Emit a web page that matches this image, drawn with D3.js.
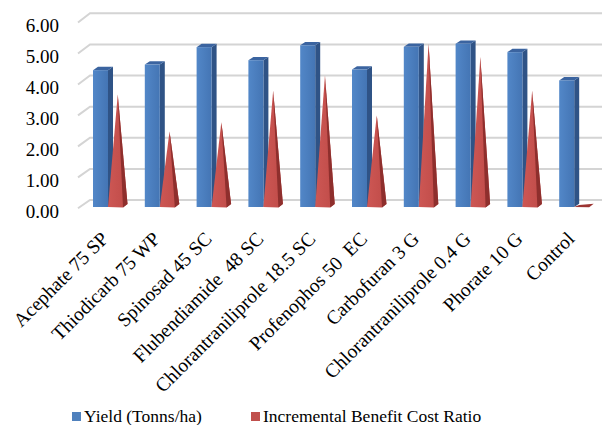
<!DOCTYPE html>
<html><head><meta charset="utf-8">
<script src="https://cdn.jsdelivr.net/npm/d3@7"></script>
<style>body{margin:0;background:#fff}svg{display:block}text{font-family:"Liberation Serif","Times New Roman",serif;fill:#000}</style>
</head><body>
<script>
const categories = ["Acephate 75 SP","Thiodicarb 75 WP","Spinosad 45 SC","Flubendiamide  48 SC","Chlorantraniliprole 18.5 SC","Profenophos 50  EC","Carbofuran 3 G","Chlorantraniliprole 0.4 G","Phorate 10 G","Control"];
const yieldValues = [4.40, 4.58, 5.14, 4.72, 5.20, 4.42, 5.15, 5.25, 4.98, 4.07];
const ibcrValues = [3.62, 2.43, 2.73, 3.75, 4.23, 2.95, 5.25, 4.82, 3.75, 0.00];
const yTicks = [0,1,2,3,4,5,6];
const seriesNames = ["Yield (Tonns/ha)", "Incremental Benefit Cost Ratio"];

const W=605,H=425;
const svg=d3.select("body").append("svg").attr("width",W).attr("height",H);
const defs=svg.append("defs");
const gb=defs.append("linearGradient").attr("id","gBlue").attr("x1","0").attr("x2","1");
gb.append("stop").attr("offset","0").attr("stop-color","#5287c8");
gb.append("stop").attr("offset","1").attr("stop-color","#4475b4");
const gr=defs.append("linearGradient").attr("id","gRed").attr("x1","0").attr("x2","1");
gr.append("stop").attr("offset","0").attr("stop-color","#cd5754");
gr.append("stop").attr("offset","1").attr("stop-color","#bf4b48");

const x=d3.scaleBand().domain(categories).range([84.5,602.5]);
const yBar=d3.scaleLinear().domain([0,6]).range([207,20.4]);
const yBack=d3.scaleLinear().domain([0,6]).range([200,13.3]);
const yWall=d3.scaleLinear().domain([0,6]).range([208.3,22.5]);
const wallX0=78, wallX1=90, backRight=602;

// gridlines
const grid=svg.append("g");
yTicks.forEach(t=>{
  grid.append("path").attr("d",`M${wallX0},${yWall(t)}L${wallX1},${yBack(t)}L${backRight},${yBack(t)}`)
    .attr("fill","none").attr("stroke","#d4d4d4").attr("stroke-width",2);
});
// y tick labels
svg.append("g").selectAll("text").data(yTicks).join("text")
  .attr("x",59).attr("y",t=>yWall(t)+3).attr("text-anchor","end").attr("dominant-baseline","central")
  .attr("font-size",19).text(t=>t.toFixed(2));

const bw=15, ddx=5, ddy=-3.3;
const g=svg.append("g");
categories.forEach((c,i)=>{
  const bx=x(c)+8.5;
  const v=yieldValues[i], yt=yBar(v), y0=yBar(0);
  g.append("path").attr("d",`M${bx+bw},${yt}L${bx+bw+ddx},${yt+ddy}L${bx+bw+ddx},${y0+ddy}L${bx+bw},${y0}Z`).attr("fill","#2f5386");
  g.append("path").attr("d",`M${bx},${yt}L${bx+ddx},${yt+ddy}L${bx+bw+ddx},${yt+ddy}L${bx+bw},${yt}Z`).attr("fill","#3b64a0");
  g.append("rect").attr("x",bx).attr("y",yt).attr("width",bw).attr("height",y0-yt).attr("fill","url(#gBlue)");
  const cx0=bx+bw, cw=19.5, ax=cx0+cw/2;
  const r=ibcrValues[i], ya=yBar(r);
  if(r>0){
    g.append("path").attr("d",`M${ax},${ya}L${cx0},${y0}L${cx0+15},${y0+0.6}L${cx0+cw},${y0-3}Z`).attr("fill","url(#gRed)");
    g.append("path").attr("d",`M${ax},${ya}L${cx0+15},${y0+0.6}L${cx0+cw},${y0-3}Z`).attr("fill","#8e2f2d");
  } else {
    g.append("path").attr("d",`M${cx0},${y0}L${cx0+15},${y0+0.3}L${cx0+cw},${y0-3.3}L${cx0+5},${y0-2}Z`).attr("fill","#9c3432");
  }
});

// x labels
svg.append("g").selectAll("text").data(categories).join("text")
  .attr("transform",c=>`translate(${x(c)+x.bandwidth()/2-1},240) rotate(-45)`)
  .attr("text-anchor","end").attr("font-size",19.5).attr("xml:space","preserve").style("white-space","pre").text(c=>c);

// legend
const lg=svg.append("g");
const legendItems=[{name:seriesNames[0],color:"#4f81bd",x:72},{name:seriesNames[1],color:"#c0504d",x:251}];
legendItems.forEach(d=>{
  lg.append("rect").attr("x",d.x).attr("y",412).attr("width",9).attr("height",9).attr("fill",d.color);
  lg.append("text").attr("x",d.x+12).attr("y",422).attr("font-size",17.5).text(d.name);
});
</script>
</body></html>
